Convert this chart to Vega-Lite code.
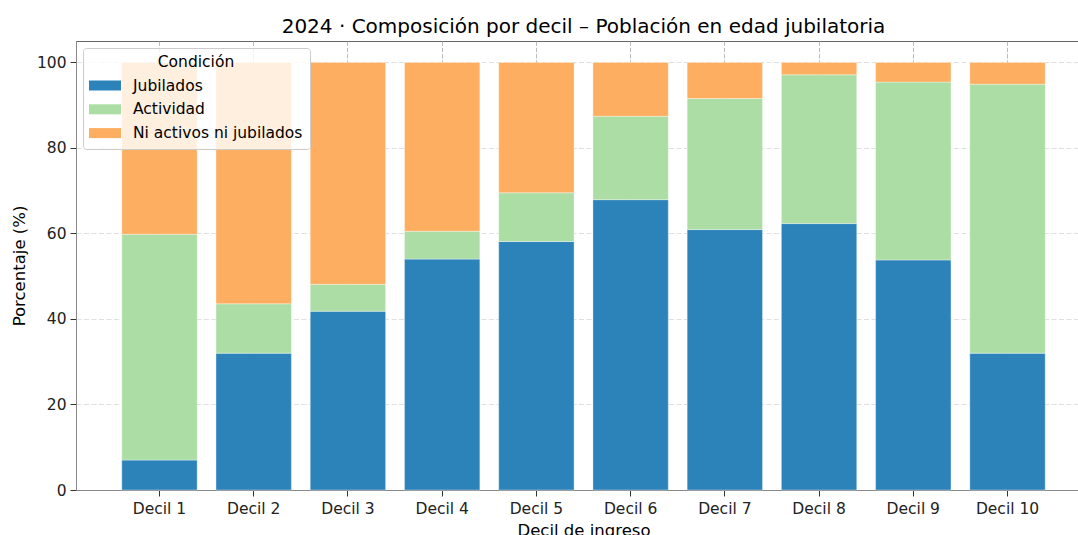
{
  "$schema": "https://vega.github.io/schema/vega-lite/v6.json",
  "autosize": {"type": "none"},
  "padding": {"left": 76, "top": 41, "right": 0, "bottom": 45},
  "width": 1015,
  "height": 449,
  "background": "white",
  "title": {
    "text": "2024 · Composición por decil – Población en edad jubilatoria",
    "font": "DejaVu Sans",
    "fontSize": 20,
    "fontWeight": "normal",
    "color": "#000000",
    "anchor": "middle",
    "offset": 4
  },
  "config": {
    "view": {"stroke": "#666666", "strokeWidth": 1},
    "axis": {
      "labelFont": "DejaVu Sans",
      "labelFontSize": 15.5,
      "labelColor": "#222222",
      "titleFont": "DejaVu Sans",
      "titleFontSize": 16.5,
      "titleFontWeight": "normal",
      "titleColor": "#000000",
      "domainColor": "#888888",
      "tickColor": "#333333",
      "tickSize": 6,
      "zindex": 1
    },
    "legend": {
      "labelFont": "DejaVu Sans",
      "titleFont": "DejaVu Sans"
    }
  },
  "data": {
    "values": [
      {"decil": "Decil 1", "condicion": "Jubilados", "valor": 7.0, "orden": 1},
      {"decil": "Decil 1", "condicion": "Actividad", "valor": 52.8, "orden": 2},
      {"decil": "Decil 1", "condicion": "Ni activos ni jubilados", "valor": 40.2, "orden": 3},
      {"decil": "Decil 2", "condicion": "Jubilados", "valor": 32.0, "orden": 1},
      {"decil": "Decil 2", "condicion": "Actividad", "valor": 11.55, "orden": 2},
      {"decil": "Decil 2", "condicion": "Ni activos ni jubilados", "valor": 56.45, "orden": 3},
      {"decil": "Decil 3", "condicion": "Jubilados", "valor": 41.8, "orden": 1},
      {"decil": "Decil 3", "condicion": "Actividad", "valor": 6.3, "orden": 2},
      {"decil": "Decil 3", "condicion": "Ni activos ni jubilados", "valor": 51.9, "orden": 3},
      {"decil": "Decil 4", "condicion": "Jubilados", "valor": 54.0, "orden": 1},
      {"decil": "Decil 4", "condicion": "Actividad", "valor": 6.5, "orden": 2},
      {"decil": "Decil 4", "condicion": "Ni activos ni jubilados", "valor": 39.5, "orden": 3},
      {"decil": "Decil 5", "condicion": "Jubilados", "valor": 58.1, "orden": 1},
      {"decil": "Decil 5", "condicion": "Actividad", "valor": 11.4, "orden": 2},
      {"decil": "Decil 5", "condicion": "Ni activos ni jubilados", "valor": 30.5, "orden": 3},
      {"decil": "Decil 6", "condicion": "Jubilados", "valor": 67.9, "orden": 1},
      {"decil": "Decil 6", "condicion": "Actividad", "valor": 19.5, "orden": 2},
      {"decil": "Decil 6", "condicion": "Ni activos ni jubilados", "valor": 12.6, "orden": 3},
      {"decil": "Decil 7", "condicion": "Jubilados", "valor": 60.9, "orden": 1},
      {"decil": "Decil 7", "condicion": "Actividad", "valor": 30.65, "orden": 2},
      {"decil": "Decil 7", "condicion": "Ni activos ni jubilados", "valor": 8.45, "orden": 3},
      {"decil": "Decil 8", "condicion": "Jubilados", "valor": 62.3, "orden": 1},
      {"decil": "Decil 8", "condicion": "Actividad", "valor": 34.8, "orden": 2},
      {"decil": "Decil 8", "condicion": "Ni activos ni jubilados", "valor": 2.9, "orden": 3},
      {"decil": "Decil 9", "condicion": "Jubilados", "valor": 53.8, "orden": 1},
      {"decil": "Decil 9", "condicion": "Actividad", "valor": 41.6, "orden": 2},
      {"decil": "Decil 9", "condicion": "Ni activos ni jubilados", "valor": 4.6, "orden": 3},
      {"decil": "Decil 10", "condicion": "Jubilados", "valor": 32.0, "orden": 1},
      {"decil": "Decil 10", "condicion": "Actividad", "valor": 62.9, "orden": 2},
      {"decil": "Decil 10", "condicion": "Ni activos ni jubilados", "valor": 5.1, "orden": 3}
    ]
  },
  "mark": {"type": "bar", "stroke": "white", "strokeWidth": 0.6, "strokeOpacity": 0.6},
  "encoding": {
    "x": {
      "field": "decil",
      "type": "nominal",
      "sort": ["Decil 1", "Decil 2", "Decil 3", "Decil 4", "Decil 5", "Decil 6", "Decil 7", "Decil 8", "Decil 9", "Decil 10"],
      "scale": {"paddingInner": 0.2, "paddingOuter": 0.486},
      "axis": {
        "title": "Decil de ingreso",
        "labelAngle": 0,
        "labelPadding": 5,
        "titlePadding": 6,
        "grid": true,
        "gridColor": "#aaaaaa",
        "gridOpacity": 0.8,
        "gridDash": [4.4, 1.9],
        "gridWidth": 1
      }
    },
    "y": {
      "field": "valor",
      "type": "quantitative",
      "stack": "zero",
      "scale": {"domain": [0, 105], "nice": false},
      "axis": {
        "title": "Porcentaje (%)",
        "values": [0, 20, 40, 60, 80, 100],
        "labelPadding": 4,
        "titlePadding": 9,
        "grid": true,
        "gridColor": "#cccccc",
        "gridOpacity": 0.6,
        "gridDash": [5, 2.5],
        "gridWidth": 1
      }
    },
    "color": {
      "field": "condicion",
      "type": "nominal",
      "scale": {
        "domain": ["Jubilados", "Actividad", "Ni activos ni jubilados"],
        "range": ["#2c83ba", "#abdda4", "#fdae61"]
      },
      "legend": {
        "title": "Condición",
        "orient": "top-left",
        "offset": 7,
        "padding": 7,
        "fillColor": "rgba(255,255,255,0.8)",
        "strokeColor": "#cccccc",
        "cornerRadius": 3,
        "titleAnchor": "middle",
        "titleFontSize": 15.5,
        "titleFontWeight": "normal",
        "titleColor": "#000000",
        "titlePadding": 5,
        "labelFontSize": 15.5,
        "labelColor": "#000000",
        "labelOffset": 18,
        "labelLimit": 400,
        "symbolType": "M-1.6,-0.5H1.6V0.5H-1.6Z",
        "symbolSize": 400,
        "symbolOffset": 5,
        "symbolStrokeWidth": 0,
        "symbolOpacity": 1,
        "rowPadding": 4.8
      }
    },
    "order": {"field": "orden", "type": "quantitative"}
  }
}
